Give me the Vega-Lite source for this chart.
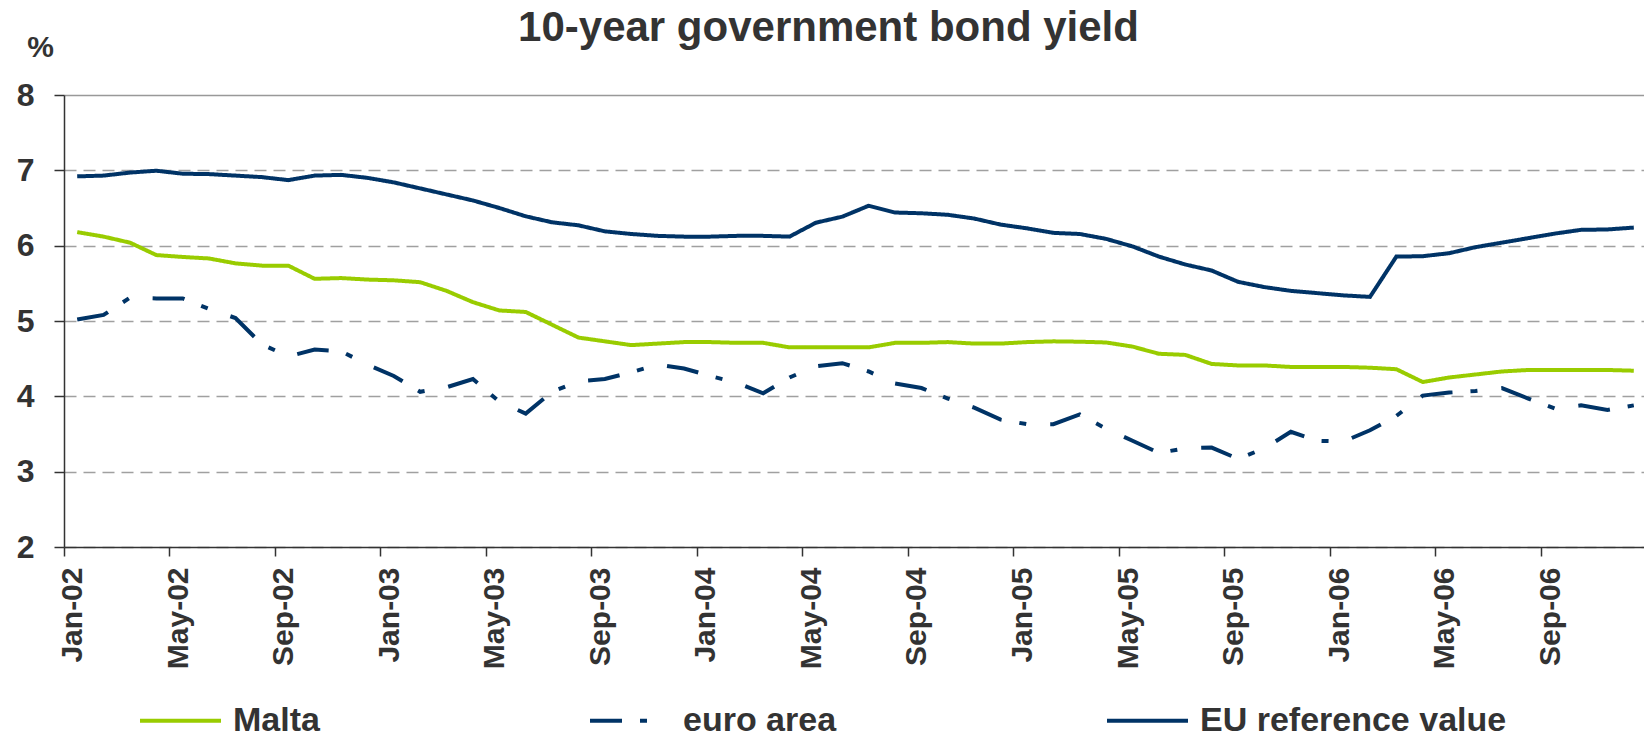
{
  "$schema": "https://vega.github.io/schema/vega-lite/v6.json",
  "width": 1583,
  "height": 452,
  "autosize": {"type": "none"},
  "padding": {"left": 64, "top": 95, "right": 0, "bottom": 193},
  "background": "white",
  "title": {
    "text": "10-year government bond yield",
    "font": "Liberation Sans",
    "fontSize": 42,
    "fontWeight": "bold",
    "color": "#333333",
    "anchor": "middle",
    "frame": "group",
    "dx": -27,
    "dy": 22
  },
  "config": {"view": {"stroke": null}},
  "data": {
    "values": [
      {"m": "Jan-02", "Malta": 6.18, "euro area": 5.02, "EU reference value": 6.92},
      {"m": "Feb-02", "Malta": 6.12, "euro area": 5.08, "EU reference value": 6.93},
      {"m": "Mar-02", "Malta": 6.04, "euro area": 5.31, "EU reference value": 6.97},
      {"m": "Apr-02", "Malta": 5.875, "euro area": 5.30, "EU reference value": 6.995},
      {"m": "May-02", "Malta": 5.85, "euro area": 5.30, "EU reference value": 6.955},
      {"m": "Jun-02", "Malta": 5.83, "euro area": 5.16, "EU reference value": 6.95},
      {"m": "Jul-02", "Malta": 5.765, "euro area": 5.04, "EU reference value": 6.93},
      {"m": "Aug-02", "Malta": 5.735, "euro area": 4.69, "EU reference value": 6.91},
      {"m": "Sep-02", "Malta": 5.735, "euro area": 4.53, "EU reference value": 6.87},
      {"m": "Oct-02", "Malta": 5.56, "euro area": 4.62, "EU reference value": 6.93},
      {"m": "Nov-02", "Malta": 5.57, "euro area": 4.60, "EU reference value": 6.94},
      {"m": "Dec-02", "Malta": 5.55, "euro area": 4.42, "EU reference value": 6.90},
      {"m": "Jan-03", "Malta": 5.54, "euro area": 4.27, "EU reference value": 6.84},
      {"m": "Feb-03", "Malta": 5.515, "euro area": 4.06, "EU reference value": 6.76},
      {"m": "Mar-03", "Malta": 5.40, "euro area": 4.12, "EU reference value": 6.68},
      {"m": "Apr-03", "Malta": 5.25, "euro area": 4.23, "EU reference value": 6.60},
      {"m": "May-03", "Malta": 5.14, "euro area": 3.93, "EU reference value": 6.50},
      {"m": "Jun-03", "Malta": 5.12, "euro area": 3.77, "EU reference value": 6.39},
      {"m": "Jul-03", "Malta": 4.95, "euro area": 4.06, "EU reference value": 6.31},
      {"m": "Aug-03", "Malta": 4.78, "euro area": 4.20, "EU reference value": 6.27},
      {"m": "Sep-03", "Malta": 4.73, "euro area": 4.23, "EU reference value": 6.19},
      {"m": "Oct-03", "Malta": 4.68, "euro area": 4.32, "EU reference value": 6.155},
      {"m": "Nov-03", "Malta": 4.70, "euro area": 4.42, "EU reference value": 6.13},
      {"m": "Dec-03", "Malta": 4.72, "euro area": 4.37, "EU reference value": 6.12},
      {"m": "Jan-04", "Malta": 4.72, "euro area": 4.27, "EU reference value": 6.12},
      {"m": "Feb-04", "Malta": 4.71, "euro area": 4.18, "EU reference value": 6.13},
      {"m": "Mar-04", "Malta": 4.71, "euro area": 4.04, "EU reference value": 6.13},
      {"m": "Apr-04", "Malta": 4.65, "euro area": 4.25, "EU reference value": 6.12},
      {"m": "May-04", "Malta": 4.65, "euro area": 4.40, "EU reference value": 6.305},
      {"m": "Jun-04", "Malta": 4.65, "euro area": 4.44, "EU reference value": 6.385},
      {"m": "Jul-04", "Malta": 4.65, "euro area": 4.33, "EU reference value": 6.53},
      {"m": "Aug-04", "Malta": 4.71, "euro area": 4.17, "EU reference value": 6.44},
      {"m": "Sep-04", "Malta": 4.71, "euro area": 4.11, "EU reference value": 6.43},
      {"m": "Oct-04", "Malta": 4.72, "euro area": 3.97, "EU reference value": 6.41},
      {"m": "Nov-04", "Malta": 4.70, "euro area": 3.85, "EU reference value": 6.36},
      {"m": "Dec-04", "Malta": 4.70, "euro area": 3.69, "EU reference value": 6.28},
      {"m": "Jan-05", "Malta": 4.72, "euro area": 3.63, "EU reference value": 6.23},
      {"m": "Feb-05", "Malta": 4.73, "euro area": 3.63, "EU reference value": 6.17},
      {"m": "Mar-05", "Malta": 4.725, "euro area": 3.76, "EU reference value": 6.155},
      {"m": "Apr-05", "Malta": 4.715, "euro area": 3.57, "EU reference value": 6.09},
      {"m": "May-05", "Malta": 4.66, "euro area": 3.41, "EU reference value": 5.99},
      {"m": "Jun-05", "Malta": 4.565, "euro area": 3.25, "EU reference value": 5.855},
      {"m": "Jul-05", "Malta": 4.55, "euro area": 3.31, "EU reference value": 5.75},
      {"m": "Aug-05", "Malta": 4.43, "euro area": 3.32, "EU reference value": 5.67},
      {"m": "Sep-05", "Malta": 4.41, "euro area": 3.17, "EU reference value": 5.52},
      {"m": "Oct-05", "Malta": 4.41, "euro area": 3.31, "EU reference value": 5.45},
      {"m": "Nov-05", "Malta": 4.39, "euro area": 3.53, "EU reference value": 5.40},
      {"m": "Dec-05", "Malta": 4.39, "euro area": 3.41, "EU reference value": 5.37},
      {"m": "Jan-06", "Malta": 4.39, "euro area": 3.40, "EU reference value": 5.34},
      {"m": "Feb-06", "Malta": 4.38, "euro area": 3.55, "EU reference value": 5.32},
      {"m": "Mar-06", "Malta": 4.36, "euro area": 3.74, "EU reference value": 5.855},
      {"m": "Apr-06", "Malta": 4.19, "euro area": 4.01, "EU reference value": 5.86},
      {"m": "May-06", "Malta": 4.25, "euro area": 4.05, "EU reference value": 5.90},
      {"m": "Jun-06", "Malta": 4.29, "euro area": 4.07, "EU reference value": 5.98},
      {"m": "Jul-06", "Malta": 4.33, "euro area": 4.11, "EU reference value": 6.04},
      {"m": "Aug-06", "Malta": 4.35, "euro area": 3.97, "EU reference value": 6.10},
      {"m": "Sep-06", "Malta": 4.35, "euro area": 3.84, "EU reference value": 6.16},
      {"m": "Oct-06", "Malta": 4.35, "euro area": 3.88, "EU reference value": 6.21},
      {"m": "Nov-06", "Malta": 4.35, "euro area": 3.82, "EU reference value": 6.215},
      {"m": "Dec-06", "Malta": 4.34, "euro area": 3.88, "EU reference value": 6.24}
    ]
  },
  "transform": [
    {"fold": ["Malta", "euro area", "EU reference value"], "as": ["series", "value"]}
  ],
  "mark": {"type": "line", "strokeWidth": 4, "strokeCap": "butt", "strokeJoin": "miter"},
  "encoding": {
    "x": {
      "field": "m",
      "type": "ordinal",
      "sort": null,
      "bandPosition": 0.5,
      "scale": {"type": "band", "paddingInner": 0, "paddingOuter": 0},
      "axis": {
        "values": ["Jan-02", "May-02", "Sep-02", "Jan-03", "May-03", "Sep-03", "Jan-04", "May-04", "Sep-04", "Jan-05", "May-05", "Sep-05", "Jan-06", "May-06", "Sep-06"],
        "bandPosition": 0,
        "labelAngle": -90,
        "labelAlign": "right",
        "labelBaseline": "middle",
        "labelOffset": -4,
        "labelFont": "Liberation Sans",
        "labelFontWeight": "bold",
        "labelFontSize": 30,
        "labelColor": "#333333",
        "labelPadding": 11,
        "tickSize": 9,
        "tickColor": "#333333",
        "tickWidth": 1.5,
        "domainColor": "#333333",
        "domainWidth": 1.5,
        "grid": false,
        "title": null
      }
    },
    "y": {
      "field": "value",
      "type": "quantitative",
      "scale": {"domain": [2, 8], "nice": false, "zero": false},
      "axis": {
        "values": [2, 3, 4, 5, 6, 7, 8],
        "labelFont": "Liberation Sans",
        "labelFontWeight": "bold",
        "labelFontSize": 32,
        "labelColor": "#333333",
        "labelPadding": 20,
        "tickSize": 10,
        "tickColor": "#333333",
        "tickWidth": 1.5,
        "domainColor": "#333333",
        "domainWidth": 1.5,
        "grid": true,
        "gridColor": {"condition": {"test": "datum.value == 8", "value": "#999999"}, "value": "#A0A0A0"},
        "gridDash": {"condition": {"test": "datum.value == 8", "value": []}, "value": [12, 7]},
        "gridWidth": 1.5,
        "title": "%",
        "titleAngle": 0,
        "titleX": -24,
        "titleY": -48,
        "titleAlign": "center",
        "titleBaseline": "middle",
        "titleFont": "Liberation Sans",
        "titleFontSize": 30,
        "titleFontWeight": "bold",
        "titleColor": "#333333"
      }
    },
    "color": {
      "field": "series",
      "type": "nominal",
      "scale": {"domain": ["Malta", "euro area", "EU reference value"], "range": ["#99CC00", "#003366", "#003366"]},
      "legend": {
        "title": null,
        "orient": "none",
        "legendX": 74,
        "legendY": 583,
        "direction": "horizontal",
        "columns": 3,
        "gridAlign": "each",
        "columnPadding": 262,
        "symbolType": "stroke",
        "symbolSize": 6561,
        "symbolStrokeWidth": 4,
        "labelOffset": 10,
        "labelFont": "Liberation Sans",
        "labelFontWeight": "bold",
        "labelFontSize": 34,
        "labelColor": "#333333",
        "labelLimit": 0
      }
    },
    "strokeDash": {
      "field": "series",
      "type": "nominal",
      "scale": {"domain": ["Malta", "euro area", "EU reference value"], "range": [[1, 0], [32, 18, 7, 24], [1, 0]]},
      "legend": {
        "title": null,
        "orient": "none",
        "legendX": 74,
        "legendY": 583,
        "direction": "horizontal",
        "columns": 3,
        "gridAlign": "each",
        "columnPadding": 262,
        "symbolType": "stroke",
        "symbolSize": 6561,
        "symbolStrokeWidth": 4,
        "labelOffset": 10,
        "labelFont": "Liberation Sans",
        "labelFontWeight": "bold",
        "labelFontSize": 34,
        "labelColor": "#333333",
        "labelLimit": 0
      }
    }
  }
}
